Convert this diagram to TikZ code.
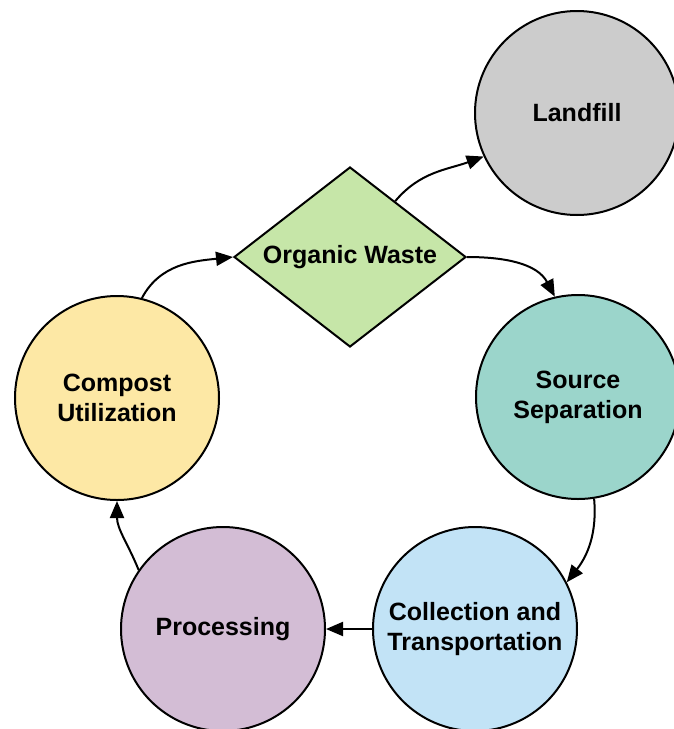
\documentclass[tikz,border=0pt]{standalone}
\usepackage{fontspec}
\setmainfont{Liberation Sans}
\usetikzlibrary{shapes.geometric,arrows.meta}
\definecolor{cland}{HTML}{CCCCCC}
\definecolor{cdia}{HTML}{C6E6A8}
\definecolor{csrc}{HTML}{9BD5CB}
\definecolor{ccol}{HTML}{C2E3F6}
\definecolor{cpro}{HTML}{D3BDD5}
\definecolor{ccom}{HTML}{FDE8A5}
\tikzset{
  stage/.style={circle,draw=black,line width=2pt,minimum size=204pt,inner sep=0pt,
    align=center,font=\fontsize{25}{30}\selectfont\bfseries},
  decision/.style={diamond,draw=black,line width=2pt,aspect=1.29,minimum width=232pt,
    minimum height=180pt,inner sep=0pt,font=\fontsize{25}{30}\selectfont\bfseries},
  flow/.style={line width=2pt,-{Triangle[length=17pt,width=14pt]}}
}
\begin{document}
\begin{tikzpicture}[x=1pt,y=1pt]
\useasboundingbox (0,0) rectangle (674,-729);
\node[stage,fill=cland] (land) at (577,-113) {Landfill};
\node[decision,fill=cdia] (dia) at (350,-257) {Organic Waste};
\node[stage,fill=csrc] (src) at (578,-397) {Source\\Separation};
\node[stage,fill=ccol] (col) at (475,-629) {Collection and\\Transportation};
\node[stage,fill=cpro] (pro) at (223,-629) {Processing};
\node[stage,fill=ccom] (com) at (117,-398) {Compost\\Utilization};
\draw[flow] (dia.51) to[out=50,in=200] (land.205);
\draw[flow] (dia.east) to[out=0,in=118] (src.103);
\draw[flow] (src.279) to[out=-85,in=52] (col.27);
\draw[flow] (col.west) -- (pro.east);
\draw[flow] (pro.145) to[out=112,in=-90] (com.south);
\draw[flow] (com.76) to[out=62,in=186] (dia.west);
\end{tikzpicture}
\end{document}
